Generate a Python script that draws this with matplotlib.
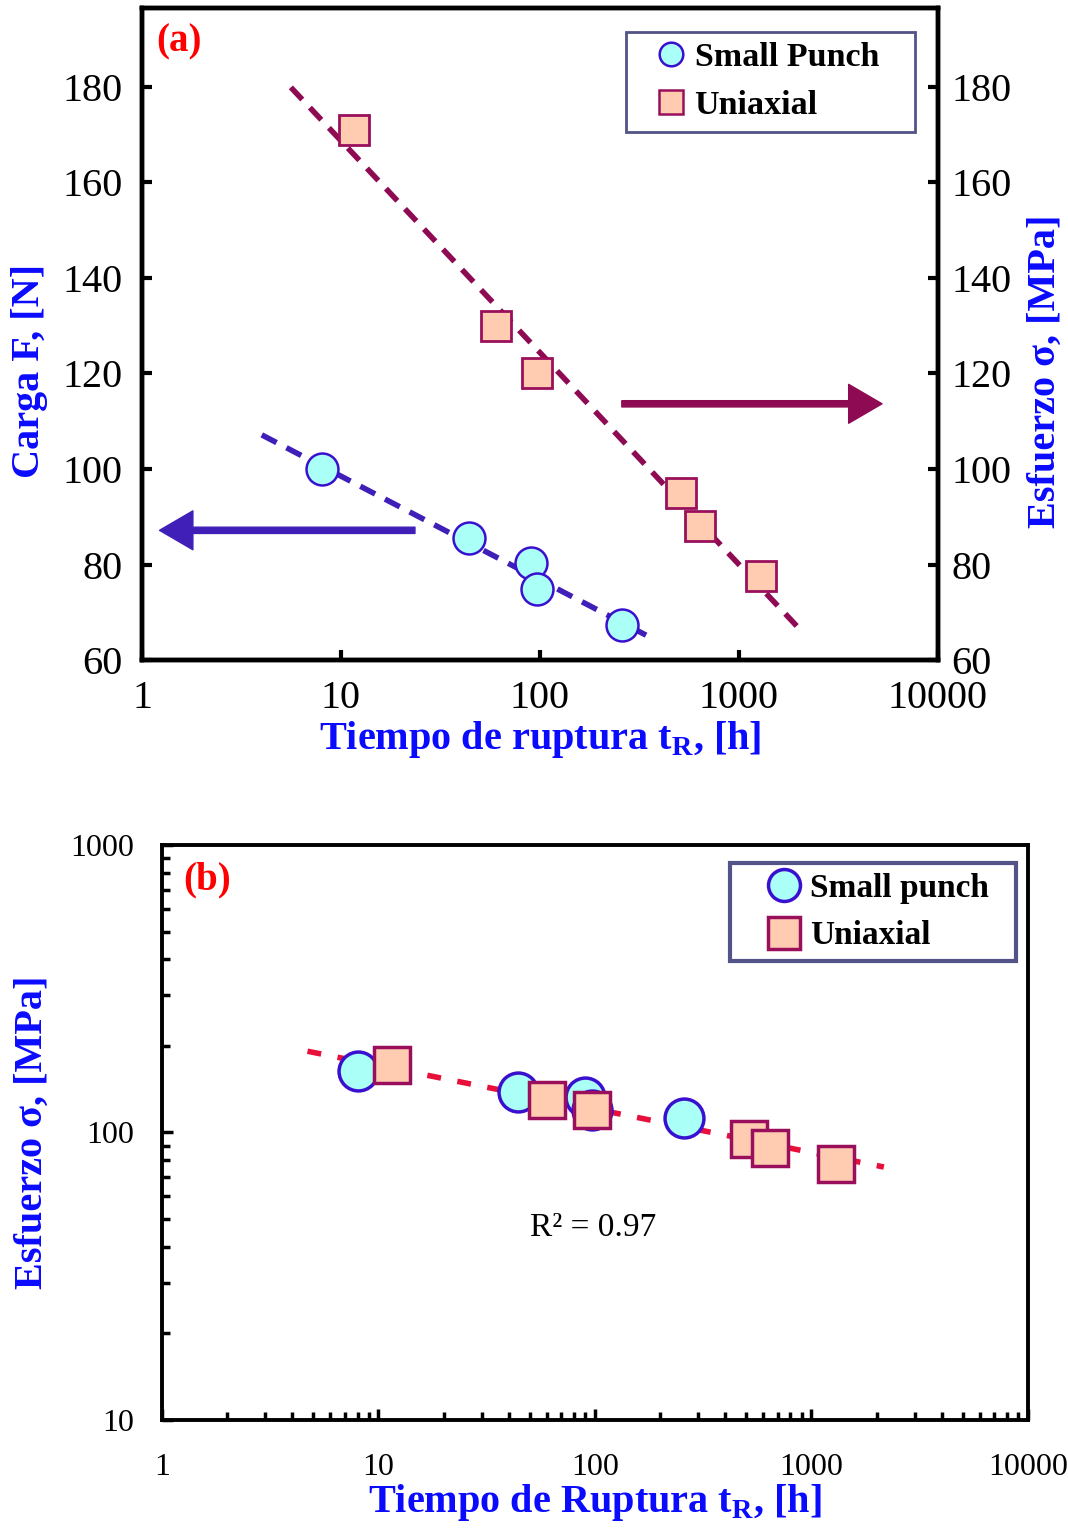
import numpy as np
import matplotlib
matplotlib.use("Agg")
import matplotlib.pyplot as plt
from matplotlib.lines import Line2D
from matplotlib.ticker import LogLocator, NullFormatter, FixedLocator

plt.rcParams["font.family"] = ["Liberation Serif", "DejaVu Serif"]
plt.rcParams["mathtext.fontset"] = "custom"
plt.rcParams["mathtext.rm"] = "Liberation Serif"
plt.rcParams["mathtext.bf"] = "Liberation Serif:bold"

# --- data ---
# Small punch: rupture time [h], load [N] (panel a), equivalent stress [MPa] (panel b)
sp_time = [8, 44, 90, 97, 258]
sp_load = [100, 85.5, 80.3, 74.8, 67.3]
sp_stress = [164, 138, 133, 120, 112]

# Uniaxial: rupture time [h], stress [MPa]
uni_time = [11.6, 60, 97, 515, 640, 1300]
uni_stress = [171, 130, 120, 95, 88, 77.5]

# extent of the fitted lines (time range)
sp_fit_range = [4.0, 374]
uni_fit_range = [5.6, 1980]
all_fit_range = [4.7, 2160]

r2_text = "R² = 0.97"

# --- styles ---
circ_face = "#aafff6"
circ_edge = "#3a10d0"
sq_face = "#ffccb2"
sq_edge = "#990f5c"
uni_line = "#8e0a52"
sp_line = "#3f1fb8"
fit_red = "#e8103a"
blue_lab = "#0a0aff"
legend_edge = "#28286a"

fig = plt.figure(figsize=(10.68, 15.28), dpi=100)

# ================= panel (a) =================
ax = fig.add_axes([0.133, 0.568, 0.745, 0.4268])
ax2 = ax.twinx()

ax.set_xscale("log")
ax.set_xlim(1, 10000)
ax.set_ylim(60, 196.5)
ax2.set_ylim(60, 196.5)

# semi-log fits
t = np.array(sp_fit_range)
c = np.polyfit(np.log10(sp_time), sp_load, 1)
ax.plot(t, np.polyval(c, np.log10(t)), color=sp_line, lw=4, ls=(0, (3, 2)), zorder=2)
t = np.array(uni_fit_range)
c = np.polyfit(np.log10(uni_time), uni_stress, 1)
ax2.plot(t, np.polyval(c, np.log10(t)), color=uni_line, lw=4, ls=(0, (3, 2)), zorder=2)

ax.plot(sp_time, sp_load, ls="none", marker="o", ms=23, mfc=circ_face,
        mec=circ_edge, mew=1.8, zorder=3)
ax2.plot(uni_time, uni_stress, ls="none", marker="s", ms=22, mfc=sq_face,
         mec=sq_edge, mew=2, zorder=3)

# arrows pointing to each axis
ax.annotate("", xy=(0.022, 0.199), xytext=(0.343, 0.199), xycoords="axes fraction",
            arrowprops=dict(color=sp_line, width=4.5, headwidth=28, headlength=24))
ax.annotate("", xy=(0.93, 0.393), xytext=(0.603, 0.393), xycoords="axes fraction",
            arrowprops=dict(color=uni_line, width=4.5, headwidth=28, headlength=24))

ax.xaxis.set_major_locator(FixedLocator([1, 10, 100, 1000, 10000]))
ax.set_xticklabels(["1", "10", "100", "1000", "10000"])
ax.xaxis.set_minor_formatter(NullFormatter())
ax.xaxis.set_minor_locator(FixedLocator([]))
ax.set_yticks([60, 80, 100, 120, 140, 160, 180])
ax2.set_yticks([60, 80, 100, 120, 140, 160, 180])
ax.tick_params(axis="both", direction="in", length=7, width=3, labelsize=29, pad=14)
ax2.tick_params(axis="y", direction="in", length=7, width=3, labelsize=29, pad=10)
for a in (ax, ax2):
    for s in a.spines.values():
        s.set_linewidth(3.2)

ax.set_xlabel(r"Tiempo de ruptura t$_\mathbf{R}$, [h]", color=blue_lab,
              fontsize=29, fontweight="bold", labelpad=2)
ax.set_ylabel("Carga F, [N]", color=blue_lab, fontsize=29, fontweight="bold")
ax.yaxis.set_label_coords(-0.118, 0.443)
ax2.set_ylabel("Esfuerzo σ, [MPa]", color=blue_lab, fontsize=29, fontweight="bold",
               rotation=90)
ax2.yaxis.set_label_coords(1.112, 0.443)

ax.text(0.018, 0.948, "(a)", transform=ax.transAxes, color="red", fontsize=28,
        fontweight="bold", ha="left", va="center")

handles_a = [
    Line2D([], [], ls="none", marker="o", ms=17, mfc=circ_face, mec=circ_edge, mew=1.8),
    Line2D([], [], ls="none", marker="s", ms=17, mfc=sq_face, mec=sq_edge, mew=1.8),
]
leg = ax2.legend(handles_a, ["Small Punch   ", "Uniaxial"], loc="upper right",
                 bbox_to_anchor=(0.971, 0.963), borderaxespad=0, fancybox=False,
                 prop=dict(size=24.5, weight="bold"), handletextpad=-0.3,
                 handlelength=2.0, borderpad=0.3, labelspacing=0.5)
leg.get_frame().set_edgecolor(legend_edge)
leg.get_frame().set_linewidth(2)

# ================= panel (b) =================
bx = fig.add_axes([0.1517, 0.0707, 0.8108, 0.3763])
bx.set_xscale("log")
bx.set_yscale("log")
bx.set_xlim(1, 10000)
bx.set_ylim(10, 1000)

# power-law fit to both data sets
xs = np.log10(sp_time + uni_time)
ys = np.log10(sp_stress + uni_stress)
c = np.polyfit(xs, ys, 1)
t = np.array(all_fit_range)
bx.plot(t, 10 ** np.polyval(c, np.log10(t)), color=fit_red, lw=4, ls=(0, (2.5, 3)), zorder=2)

bx.plot(sp_time, sp_stress, ls="none", marker="o", ms=28, mfc=circ_face,
        mec=circ_edge, mew=2.5, zorder=3)
bx.plot(uni_time, uni_stress, ls="none", marker="s", ms=26, mfc=sq_face,
        mec=sq_edge, mew=2.5, zorder=4)

bx.xaxis.set_major_locator(LogLocator(base=10, numticks=10))
bx.xaxis.set_minor_locator(LogLocator(base=10, subs=np.arange(2, 10), numticks=10))
bx.yaxis.set_major_locator(LogLocator(base=10, numticks=10))
bx.yaxis.set_minor_locator(LogLocator(base=10, subs=np.arange(2, 10), numticks=10))
bx.xaxis.set_minor_formatter(NullFormatter())
bx.yaxis.set_minor_formatter(NullFormatter())
bx.set_xticks([1, 10, 100, 1000, 10000])
bx.set_xticklabels(["1", "10", "100", "1000", "10000"])
bx.set_yticks([10, 100, 1000])
bx.set_yticklabels(["10", "100", "1000"])
bx.tick_params(axis="both", which="major", direction="in", length=8, width=2.5,
               labelsize=23)
bx.tick_params(axis="both", which="minor", direction="in", length=6, width=2.5)
bx.tick_params(axis="x", which="major", pad=24)
bx.tick_params(axis="y", which="major", pad=20)
for s in bx.spines.values():
    s.set_linewidth(2.8)

bx.set_xlabel(r"Tiempo de Ruptura t$_\mathbf{R}$, [h]", color=blue_lab,
              fontsize=29, fontweight="bold", labelpad=0)
bx.set_ylabel("Esfuerzo σ, [MPa]", color=blue_lab, fontsize=29, fontweight="bold")
bx.yaxis.set_label_coords(-0.128, 0.5)

bx.text(0.024, 0.939, "(b)", transform=bx.transAxes, color="red", fontsize=28,
        fontweight="bold", ha="left", va="center")
bx.text(0.498, 0.334, r2_text, transform=bx.transAxes, fontsize=24,
        ha="center", va="center")

handles_b = [
    Line2D([], [], ls="none", marker="o", ms=23, mfc=circ_face, mec=circ_edge, mew=2.5),
    Line2D([], [], ls="none", marker="s", ms=23, mfc=sq_face, mec=sq_edge, mew=2.5),
]
leg = bx.legend(handles_b, ["Small punch  ", "Uniaxial"], loc="upper right",
                bbox_to_anchor=(0.986, 0.969), borderaxespad=0, fancybox=False,
                prop=dict(size=24, weight="bold"), handletextpad=-0.5,
                handlelength=2.6, borderpad=0.3, labelspacing=0.5)
leg.get_frame().set_edgecolor(legend_edge)
leg.get_frame().set_linewidth(3)

fig.savefig("out.png", dpi=100)
